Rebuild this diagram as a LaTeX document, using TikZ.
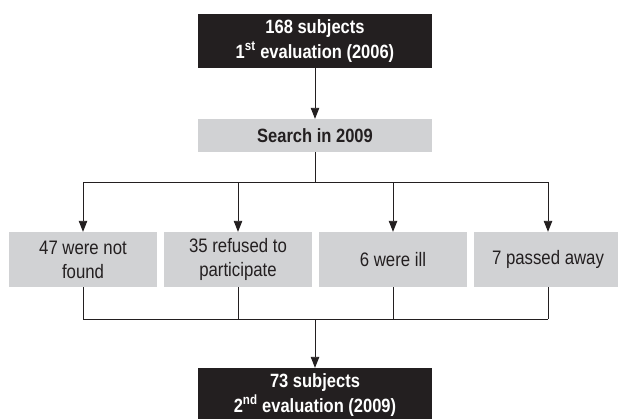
\documentclass[tikz,border=0pt]{standalone}
\usepackage{fontspec}
\setmainfont[FakeStretch=0.86]{Liberation Sans}
\usetikzlibrary{arrows.meta}
\definecolor{boxgray}{HTML}{D1D2D4}
\definecolor{boxblack}{HTML}{231F20}
\definecolor{linecol}{HTML}{231F20}
\tikzset{
  darkbox/.style={rectangle, fill=boxblack, text=white, minimum width=234pt, minimum height=54pt, inner sep=0pt, align=center, font=\fontsize{19.2}{25}\selectfont\bfseries},
  graybox/.style={rectangle, fill=boxgray, text=boxblack, minimum width=148pt, minimum height=55pt, inner sep=0pt, align=center, font=\fontsize{19.5}{24}\selectfont},
  searchbox/.style={rectangle, fill=boxgray, text=boxblack, minimum width=234pt, minimum height=33pt, inner sep=0pt, align=center, font=\fontsize{19.2}{20}\selectfont\bfseries},
  conn/.style={draw=linecol, line width=0.9pt},
  arr/.style={conn, -{Triangle[length=11pt,width=8.5pt]}},
}
\begin{document}
\begin{tikzpicture}[x=1pt,y=-1pt]
\useasboundingbox (0,0) rectangle (618,418);
\node[darkbox] (top) at (315,41) {168 subjects\\1\textsuperscript{st} evaluation (2006)};
\node[searchbox] (search) at (315,135.5) {Search in 2009};
\node[graybox] (b1) at (83,259.5) {47 were not\\found};
\node[graybox] (b2) at (238,259.5) {35 refused to\\participate};
\node[graybox] (b3) at (393,259.5) {6 were ill};
\node[graybox] (b4) at (548,259.5) {7 passed away};
\node[darkbox] (bottom) at (315,395) {73 subjects\\2\textsuperscript{nd} evaluation (2009)};
\coordinate (split) at (315,182);
\coordinate (merge) at (315,319);
\draw[arr] (top.south) -- (search.north);
\draw[conn] (search.south) -- (split);
\draw[conn] (b1.north |- split) -- (b4.north |- split);
\foreach \b in {b1,b2,b3,b4} {
  \draw[arr] (\b.north |- split) -- (\b.north);
  \draw[conn] (\b.south) -- (\b.south |- merge);
}
\draw[conn] (b1.south |- merge) -- (b4.south |- merge);
\draw[arr] (merge) -- (bottom.north);
\end{tikzpicture}
\end{document}
